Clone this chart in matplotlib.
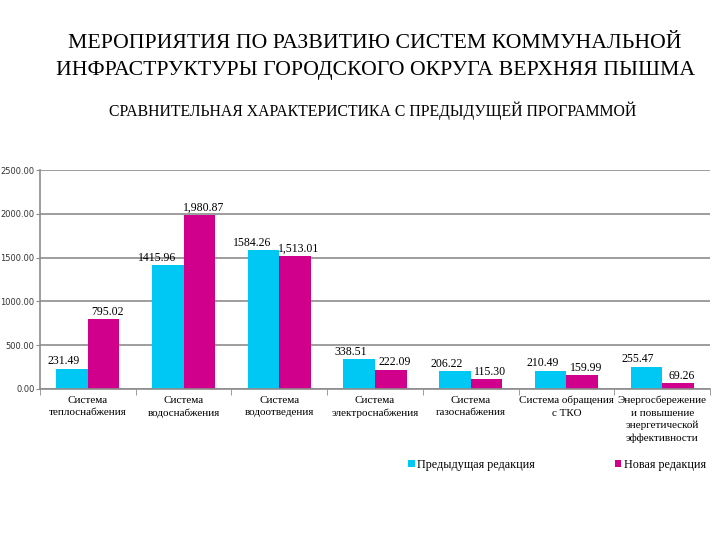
import matplotlib.pyplot as plt
import numpy as np

plt.rcParams['font.family'] = ['Liberation Serif', 'DejaVu Serif']

categories = ['Система\nтеплоснабжения', 'Система\nводоснабжения', 'Система\nводоотведения',
              'Система\nэлектроснабжения', 'Система\nгазоснабжения', 'Система обращения\nс ТКО',
              'Энергосбережение\nи повышение\nэнергетической\nэффективности']
prev_values = [231.49, 1415.96, 1584.26, 338.51, 206.22, 210.49, 255.47]
new_values = [795.02, 1980.87, 1513.01, 222.09, 115.30, 159.99, 69.26]
prev_labels = ['231.49', '1415.96', '1584.26', '338.51', '206.22', '210.49', '255.47']
new_labels = ['795.02', '1,980.87', '1,513.01', '222.09', '115.30', '159.99', '69.26']
series_names = ['Предыдущая редакция', 'Новая редакция']

blue = '#00C8F4'
magenta = '#D0008C'

fig = plt.figure(figsize=(7.2, 5.4), dpi=100)
ax = fig.add_axes([40/720, 1-389/540, 670/720, 219/540])

x = np.arange(len(categories))
w = 0.33
b1 = ax.bar(x - w/2, prev_values, w, color=blue, label=series_names[0])
b2 = ax.bar(x + w/2, new_values, w, color=magenta, label=series_names[1])

# blue labels sit a bit left, magenta ones roughly centred
for rect, lab in zip(b1, prev_labels):
    ax.text(rect.get_x() + rect.get_width() - 0.08, rect.get_height() + 15, lab,
            ha='right', va='bottom', fontsize=8.5)
for rect, lab in zip(b2, new_labels):
    ax.text(rect.get_x() + rect.get_width()/2 + 0.04, rect.get_height() + 15, lab,
            ha='center', va='bottom', fontsize=8.5)

ax.set_xlim(-0.5, len(categories) - 0.5)
ax.set_ylim(0, 2500)
ax.set_yticks(np.arange(0, 2501, 500))
ax.set_yticklabels(['%.2f' % v for v in np.arange(0, 2501, 500)], fontsize=6.0,
                   family='DejaVu Sans', color='#333333')
ax.yaxis.grid(True, color='#8c8c8c', linewidth=1.2)
ax.set_axisbelow(True)

ax.set_xticks(x)
ax.set_xticklabels(categories, fontsize=8, linespacing=1.45)
ax.tick_params(axis='x', length=0, pad=5)
ax.set_xticks(np.arange(-0.5, len(categories)), minor=True)
ax.tick_params(axis='x', which='minor', length=4, color='#8c8c8c')
ax.tick_params(axis='y', length=3, color='#8c8c8c', pad=1)

for s in ['top', 'right']:
    ax.spines[s].set_visible(False)
for s in ['left', 'bottom']:
    ax.spines[s].set_color('#8c8c8c')
    ax.spines[s].set_linewidth(1.2)

fig.legend(handles=[b1, b2], labels=series_names, loc='center left',
           bbox_to_anchor=(397/720, 1-465/540), ncol=2, frameon=False,
           fontsize=8.7, handlelength=0.55, handleheight=0.55, handletextpad=0.2,
           columnspacing=6.6)

fig.text(0.521, 1-44/540, 'МЕРОПРИЯТИЯ ПО РАЗВИТИЮ СИСТЕМ КОММУНАЛЬНОЙ',
         ha='center', va='center', fontsize=15.7)
fig.text(0.521, 1-70/540, 'ИНФРАСТРУКТУРЫ ГОРОДСКОГО ОКРУГА ВЕРХНЯЯ ПЫШМА',
         ha='center', va='center', fontsize=15.7)
fig.text(0.517, 1-111/540, 'СРАВНИТЕЛЬНАЯ ХАРАКТЕРИСТИКА С ПРЕДЫДУЩЕЙ ПРОГРАММОЙ',
         ha='center', va='center', fontsize=11.3)

fig.savefig('out.png', dpi=100)
